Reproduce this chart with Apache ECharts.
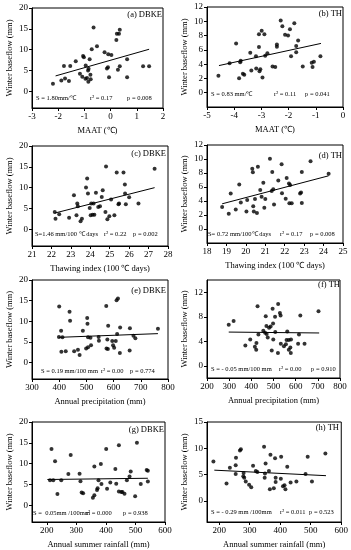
<!DOCTYPE html>
<html><head><meta charset="utf-8">
<script src="https://cdn.jsdelivr.net/npm/echarts@6/dist/echarts.min.js"></script>
<style>html,body{margin:0;padding:0;background:#fff}#c{width:351px;height:550px}</style>
</head><body><div id="c"></div>
<script>
// ---------- DATA ----------
const ptsA = [[-2.2,1.8],[-1.88,2.6],[-1.78,6.1],[-1.74,3.1],[-1.59,2.5],[-1.54,6.1],[-1.33,7.2],[-1.17,4.2],[-1.08,3.5],[-1.05,8.5],[-1.02,8.2],[-0.96,3.0],[-0.95,6.2],[-0.9,3.2],[-0.86,5.0],[-0.85,2.3],[-0.84,5.4],[-0.8,7.7],[-0.77,4.0],[-0.76,2.9],[-0.72,10.1],[-0.65,15.3],[-0.52,10.8],[-0.23,9.4],[-0.14,5.5],[-0.1,5.8],[-0.09,8.9],[-0.06,3.4],[0.03,8.7],[0.22,12.3],[0.24,13.8],[0.32,13.8],[0.35,14.8],[0.28,5.2],[0.35,6.0],[0.63,7.7],[0.63,3.4],[1.24,6.0],[1.47,6.0]];
const trendA = [[-2.1,3.7],[1.47,10.1]];
const ptsB = [[-4.58,2.36],[-4.17,4.12],[-3.93,6.9],[-3.82,2.04],[-3.78,4.26],[-3.76,4.49],[-3.68,2.64],[-3.63,2.5],[-3.41,5.6],[-3.37,3.1],[-3.2,5.09],[-3.19,3.38],[-3.09,8.19],[-3.09,6.39],[-3.07,3.0],[-3.04,3.29],[-2.99,8.66],[-2.96,2.13],[-2.89,8.19],[-2.86,5.19],[-2.78,5.51],[-2.59,3.66],[-2.49,3.61],[-2.43,6.44],[-2.43,6.76],[-2.29,10.1],[-2.23,9.3],[-2.13,8.1],[-2.02,8.0],[-1.95,8.9],[-1.91,5.09],[-1.79,9.72],[-1.72,5.65],[-1.72,6.53],[-1.65,7.31],[-1.48,3.66],[-1.15,4.2],[-1.12,3.6],[-1.07,4.35],[-0.83,5.1]];
const trendB = [[-4.56,3.8],[-0.81,6.9]];
const ptsC = [[22.17,4.18],[22.21,2.57],[22.4,3.61],[22.91,2.81],[23.16,8.19],[23.29,3.37],[23.33,6.18],[23.36,5.54],[23.5,1.93],[23.57,2.57],[23.78,10.04],[23.84,12.2],[23.88,8.59],[23.97,5.14],[24.02,3.37],[24.05,6.18],[24.12,3.53],[24.17,6.18],[24.21,3.53],[24.29,8.76],[24.41,5.38],[24.5,5.54],[24.59,7.79],[24.64,9.4],[24.78,4.18],[24.81,15.1],[24.88,2.41],[24.98,3.13],[25.07,7.15],[25.24,3.37],[25.36,13.65],[25.45,6.02],[25.48,6.18],[25.71,13.65],[25.78,10.76],[25.79,8.59],[25.83,6.02],[26.0,7.71],[26.48,6.18],[27.31,14.54]];
const trendC = [[22.17,3.9],[27.31,10.0]];
const ptsD = [[18.78,3.16],[19.12,2.19],[19.22,5.07],[19.48,2.79],[19.66,6.37],[19.74,3.77],[20.03,2.51],[20.07,4.14],[20.33,8.6],[20.36,8.09],[20.38,3.26],[20.41,2.51],[20.47,4.28],[20.57,2.28],[20.62,8.88],[20.74,5.58],[20.81,4.6],[20.9,6.6],[20.95,3.02],[21.0,4.28],[21.24,10.05],[21.33,5.44],[21.36,8.14],[21.41,5.67],[21.45,3.49],[21.67,6.93],[21.84,9.26],[21.86,5.12],[22.05,4.33],[22.1,7.3],[22.22,6.51],[22.28,6.28],[22.24,3.67],[22.36,3.67],[22.79,5.07],[22.84,5.21],[22.88,3.72],[22.88,8.14],[23.33,9.67],[24.26,7.91]];
const trendD = [[18.78,3.6],[24.26,7.6]];
const ptsE = [[400,13.6],[399,6.2],[407,7.7],[408,2.6],[412,6.1],[424,2.7],[438,12.3],[440,10.1],[455,2.7],[469,3.1],[475,1.8],[487,7.7],[499,3.4],[503,10.8],[504,9.4],[506,3.7],[506,6.1],[515,6.0],[517,4.2],[545,6.2],[546,5.3],[573,13.7],[577,5.6],[574,3.4],[579,3.3],[580,8.9],[595,5.2],[598,4.2],[602,3.6],[608,5.2],[611,15.1],[616,15.5],[613,6.9],[623,2.3],[624,8.5],[660,8.3],[659,2.9],[673,6.5],[680,5.9],[763,8.2]];
const trendE = [[399,6.1],[763,7.0]];
const ptsF = [[298,6.7],[320,7.3],[373,3.3],[395,4.3],[416,3.1],[422,2.6],[423,3.7],[428,9.7],[432,5.1],[454,5.7],[462,5.4],[465,8.1],[468,6.5],[469,5.2],[474,4.6],[480,6.2],[487,6.4],[492,2.5],[496,9.3],[498,6.9],[499,4.3],[507,8.0],[508,5.5],[521,10.1],[520,2.1],[529,8.6],[532,8.2],[533,3.6],[547,3.2],[556,3.5],[559,4.2],[562,5.6],[569,2.6],[569,4.2],[576,3.0],[578,2.1],[579,4.3],[611,3.6],[615,5.1],[621,8.2],[640,3.6],[703,8.9]];
const trendF = [[298,5.5],[706,5.35]];
const ptsG = [[211,6.0],[216,13.5],[222,6.0],[228,10.6],[236,2.7],[249,6.0],[273,7.5],[281,12.1],[311,7.6],[314,5.8],[318,3.1],[323,2.9],[356,1.8],[361,2.4],[361,9.3],[370,3.7],[372,4.1],[375,6.0],[383,9.9],[385,5.1],[401,13.5],[404,4.0],[415,5.5],[432,8.7],[435,5.2],[444,14.4],[444,3.3],[452,3.2],[456,3.2],[463,2.8],[471,6.0],[480,6.9],[484,8.1],[499,2.2],[505,15.0],[518,5.1],[538,8.5],[542,8.3],[542,5.7]];
const trendG = [[202,6.2],[542,6.5]];
const ptsH = [[181,7.5],[224,3.3],[235,6.3],[254,6.8],[255,8.2],[254,5.1],[268,9.6],[271,9.8],[280,5.3],[279,4.7],[282,4.4],[287,3.7],[298,3.1],[305,2.6],[311,6.7],[320,5.7],[325,5.5],[347,10.3],[349,4.4],[350,5.2],[352,7.1],[363,5.7],[366,2.2],[368,8.8],[383,8.1],[385,4.4],[385,3.6],[379,2.4],[403,8.4],[402,4.2],[409,2.8],[414,3.0],[417,2.2],[423,6.5],[434,3.5],[453,3.7],[483,5.1],[490,8.4],[504,3.7],[548,9.0]];
const trendH = [[184,5.85],[550,4.8]];

const xNames = ['MAAT (℃)','MAAT (℃)','Thawing index (100 ℃ days)','Thawing index (100 ℃ days)','Annual precipitation (mm)','Annual precipitation (mm)','Annual summer rainfall (mm)','Annual summer rainfall (mm)'];
const yName = 'Winter baseflow (mm)';
const tags = ['(a) DBKE','(b) TH','(c) DBKE','(d) TH','(e) DBKE','(f) TH','(g) DBKE','(h) TH'];
const statS = ['S = 1.80mm/℃','S = 0.83 mm/℃','S=1.46 mm/100 ℃ days','S= 0.72 mm/100℃ days','S = 0.19 mm/100 mm','S = - 0.05 mm/100 mm','S =  0.05mm /100mm','S = - 0.29 mm /100mm'];
const statR = ['r² = 0.17','r² = 0.11','r² = 0.22','r² = 0.17','r² = 0.00','r² = 0.00','r² = 0.000','r² = 0.011'];
const statP = ['p = 0.008','p = 0.041','p = 0.002','p = 0.008','p = 0.774','p = 0.910','p = 0.938','p = 0.523'];
const xRanges = [[-3,2],[-5,0],[21,28],[18,25],[300,800],[200,800],[150,600],[160,600]];
const xTicks = [[-3,-2,-1,0,1,2],[-5,-4,-3,-2,-1,0],[21,22,23,24,25,26,27,28],[18,19,20,21,22,23,24,25],[300,400,500,600,700,800],[200,300,400,500,600,700,800],[200,300,400,500,600],[200,300,400,500,600]];
const yRanges = [[-4,20],[-2,12],[-4,20],[-2,12],[-4,20],[-2,14],[-4,20],[-4,15]];
const yTicks = [[0,5,10,15,20],[0,2,4,6,8,10,12],[0,5,10,15,20],[0,2,4,6,8,10,12],[0,5,10,15,20],[0,4,8,12],[0,5,10,15,20],[0,5,10,15]];
const allPts = [ptsA,ptsB,ptsC,ptsD,ptsE,ptsF,ptsG,ptsH];
const allTrends = [trendA,trendB,trendC,trendD,trendE,trendF,trendG,trendH];

// ---------- LAYOUT ----------
const boxes = [[32,8,131,100],[207,7,136,100],[32,146,136,100],[207,145,136,98],[32,280,136,99],[207,280,133,98],[32,422,133,100],[207,422,135,100]];
const tagPos = [[162,15],[342,14],[166,154],[342,156],[166,291],[340,285],[164,430],[339,428]];
const statPos = [[[36,98],[90,98],[127,98]],[[211,94],[274,94],[305,94]],[[35,234],[104,234],[133,234]],[[208,234],[280,234],[310,234]],[[41,371],[101,371],[130,371]],[[211,369],[279,369],[311,369]],[[33,513],[86,513],[123,513]],[[211,512],[280,512],[309,512]]];

const FF = '"Liberation Serif","Times New Roman",serif';
const grids=[], xAxes=[], yAxes=[], series=[], graphics=[];
for (let i=0;i<8;i++){
  const b = boxes[i];
  grids.push({left:b[0],top:b[1],width:b[2],height:b[3],show:true,borderColor:'#000',borderWidth:1,backgroundColor:'transparent',containLabel:false});
  xAxes.push({type:'value',gridIndex:i,min:xRanges[i][0],max:xRanges[i][1],
    axisLine:{onZero:false,lineStyle:{color:'#000',width:1}},
    axisTick:{show:true,length:3,customValues:xTicks[i],lineStyle:{color:'#000'}},
    axisLabel:{customValues:xTicks[i],color:'#000',fontSize:9,fontFamily:FF,margin:4,hideOverlap:false},
    splitLine:{show:false},
    name:xNames[i],nameLocation:'middle',nameGap:18,nameTextStyle:{color:'#000',fontSize:8.5,fontFamily:FF}});
  yAxes.push({type:'value',gridIndex:i,min:yRanges[i][0],max:yRanges[i][1],
    axisLine:{onZero:false,lineStyle:{color:'#000',width:1}},
    axisTick:{show:true,length:3,customValues:yTicks[i],lineStyle:{color:'#000'}},
    axisLabel:{customValues:yTicks[i],color:'#000',fontSize:9,fontFamily:FF,margin:4},
    splitLine:{show:false},
    name:yName,nameLocation:'middle',nameGap:18,nameTextStyle:{color:'#000',fontSize:8.5,fontFamily:FF}});
  series.push({type:'scatter',xAxisIndex:i,yAxisIndex:i,data:allPts[i],symbolSize:4,itemStyle:{color:'#000'},silent:true,animation:false});
  series.push({type:'line',xAxisIndex:i,yAxisIndex:i,data:allTrends[i],symbol:'none',lineStyle:{color:'#000',width:1},silent:true,animation:false});
  graphics.push({type:'text',x:tagPos[i][0],y:tagPos[i][1],style:{text:tags[i],fill:'#000',font:'8.5px '+FF,textAlign:'right',textVerticalAlign:'middle'}});
  const st=[statS[i],statR[i],statP[i]];
  for(let k=0;k<3;k++){
    graphics.push({type:'text',x:statPos[i][k][0],y:statPos[i][k][1],style:{text:st[k],fill:'#000',font:'6.5px '+FF,textAlign:'left',textVerticalAlign:'middle'}});
  }
}
const chart = echarts.init(document.getElementById('c'),null,{renderer:'canvas'});
chart.setOption({animation:false,grid:grids,xAxis:xAxes,yAxis:yAxes,series:series,graphic:graphics});
</script></body></html>
